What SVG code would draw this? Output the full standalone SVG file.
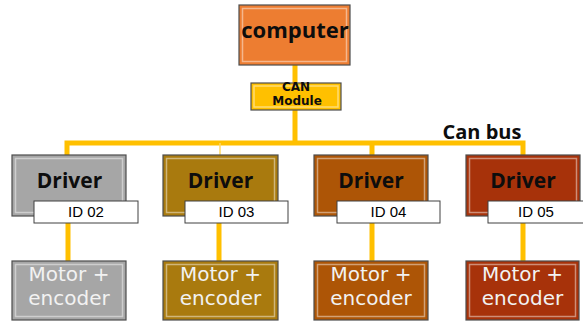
<svg xmlns="http://www.w3.org/2000/svg" width="583" height="322" viewBox="0 0 583 322">
<style>
.box{stroke:#4d4d4d;stroke-width:1.2}
.bev{fill:none;stroke:#ffffff;stroke-opacity:0.45;stroke-width:1.5}
.wire{stroke:#FFC000;stroke-width:5;fill:none}
.thin{stroke:#FFD966;stroke-width:1.5;fill:none}
.big{font-family:"Open Sans","Noto Sans",sans-serif;font-weight:bold;fill:#0d0d0d;text-anchor:middle}
.can{font-family:"DejaVu Sans",sans-serif;font-weight:bold;font-size:12px;fill:#0d0d0d;text-anchor:middle}
.id{font-family:"Liberation Sans",Arial,sans-serif;font-size:15px;fill:#000;text-anchor:middle}
.idbox{fill:#fff;stroke:#404040;stroke-width:1}
.mot{font-family:"DejaVu Sans",sans-serif;font-size:20px;fill:#F2F2F2;text-anchor:middle}
</style>
<rect width="583" height="322" fill="#fff"/>
<g id="connectors">
<path class="wire" d="M295 65V143M67 157V143H523V157M372 143V157"/>
<path class="thin" d="M220 143V157"/>
<path class="wire" d="M68 222V262M219 222V262M372 222V262M523 222V262"/>
</g>
<g id="computer">
<rect class="box" x="239" y="5" width="111" height="60" fill="#ED7D31"/>
<rect class="bev" x="242.5" y="8.5" width="104" height="53"/>
<text class="big" x="295" y="38" font-size="22">computer</text>
</g>
<g id="can-module">
<rect class="box" x="251" y="83" width="90" height="27" fill="#FFC000"/>
<rect class="bev" x="254" y="86" width="84" height="21"/>
<text class="can" x="296" y="91">CAN</text>
<text class="can" x="297" y="105">Module</text>
</g>
<text class="big" x="482" y="139" font-size="20">Can bus</text>
<g id="driver1">
<rect class="box" x="12" y="155" width="114" height="61" fill="#A6A6A6"/>
<rect class="bev" x="15.5" y="158.5" width="107" height="54"/>
<text class="big" x="69.5" y="188" font-size="21">Driver</text>
<rect class="idbox" x="34" y="201" width="104" height="22"/>
<text class="id" x="86" y="217">ID 02</text>
</g>
<g id="driver2">
<rect class="box" x="163" y="155" width="115" height="61" fill="#A97A0E"/>
<rect class="bev" x="166.5" y="158.5" width="108" height="54"/>
<text class="big" x="220.5" y="188" font-size="21">Driver</text>
<rect class="idbox" x="185" y="201" width="103" height="22"/>
<text class="id" x="236.5" y="217">ID 03</text>
</g>
<g id="driver3">
<rect class="box" x="314" y="155" width="114" height="61" fill="#AD5506"/>
<rect class="bev" x="317.5" y="158.5" width="107" height="54"/>
<text class="big" x="371" y="188" font-size="21">Driver</text>
<rect class="idbox" x="337" y="201" width="103" height="22"/>
<text class="id" x="388.5" y="217">ID 04</text>
</g>
<g id="driver4">
<rect class="box" x="466" y="155" width="114" height="61" fill="#A7320A"/>
<rect class="bev" x="469.5" y="158.5" width="107" height="54"/>
<text class="big" x="523" y="188" font-size="21">Driver</text>
<rect class="idbox" x="488" y="201" width="97" height="22"/>
<text class="id" x="536" y="217">ID 05</text>
</g>
<g id="motor1">
<rect class="box" x="12" y="261" width="114" height="59" fill="#A6A6A6"/>
<rect class="bev" x="15.5" y="264.5" width="107" height="52"/>
<text class="mot" x="69" y="281">Motor +</text>
<text class="mot" x="69" y="305">encoder</text>
</g>
<g id="motor2">
<rect class="box" x="163" y="261" width="115" height="59" fill="#A97A0E"/>
<rect class="bev" x="166.5" y="264.5" width="108" height="52"/>
<text class="mot" x="220.5" y="281">Motor +</text>
<text class="mot" x="220.5" y="305">encoder</text>
</g>
<g id="motor3">
<rect class="box" x="314" y="261" width="114" height="59" fill="#AD5506"/>
<rect class="bev" x="317.5" y="264.5" width="107" height="52"/>
<text class="mot" x="371" y="281">Motor +</text>
<text class="mot" x="371" y="305">encoder</text>
</g>
<g id="motor4">
<rect class="box" x="466" y="261" width="113" height="59" fill="#A7320A"/>
<rect class="bev" x="469.5" y="264.5" width="106" height="52"/>
<text class="mot" x="522.5" y="281">Motor +</text>
<text class="mot" x="522.5" y="305">encoder</text>
</g>
</svg>
